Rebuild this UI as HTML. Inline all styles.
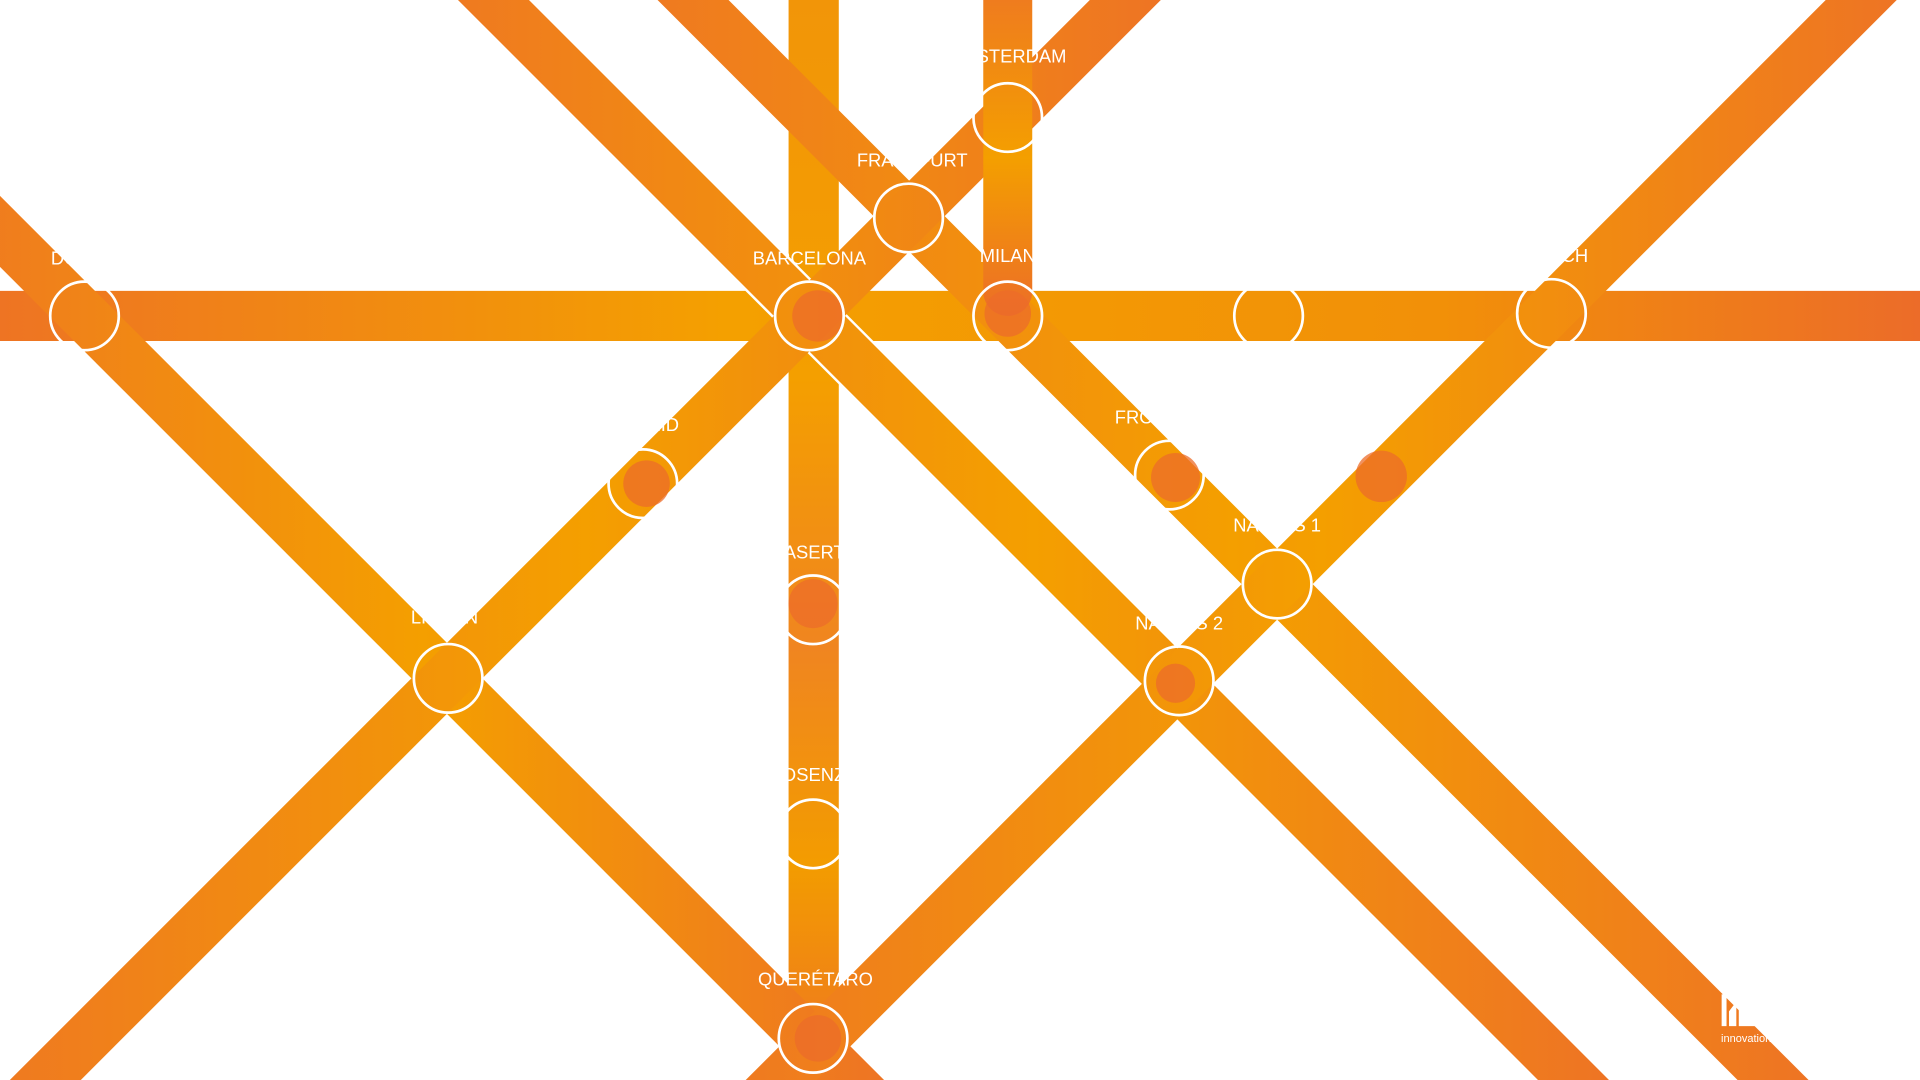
<!DOCTYPE html>
<html><head><meta charset="utf-8"><style>
html,body{margin:0;padding:0;background:#fff;width:1920px;height:1080px;overflow:hidden}
svg{display:block}
text{font-family:"Liberation Sans",sans-serif;fill:#fff;font-size:15px;text-anchor:middle}
</style></head><body>
<svg width="1920" height="1080" viewBox="0 0 1568 882" xmlns="http://www.w3.org/2000/svg">
<defs>
<linearGradient id="gh" gradientUnits="userSpaceOnUse" x1="0" y1="0" x2="1568" y2="0">
<stop offset="0" stop-color="#ee7423"/><stop offset="0.38" stop-color="#f4a000"/><stop offset="0.75" stop-color="#f29008"/><stop offset="1" stop-color="#ec6c29"/></linearGradient>
<linearGradient id="gd" x1="0" y1="0" x2="1" y2="0">
<stop offset="0" stop-color="#ef7a20"/><stop offset="0.5" stop-color="#f49f00"/><stop offset="1" stop-color="#ee7424"/></linearGradient>
<linearGradient id="gv" x1="0" y1="0" x2="0" y2="1">
<stop offset="0" stop-color="#f29508"/><stop offset="0.35" stop-color="#f49f00"/><stop offset="0.6" stop-color="#f08520"/><stop offset="0.8" stop-color="#f39c00"/><stop offset="1" stop-color="#ee7423"/></linearGradient>
<linearGradient id="gv2" x1="0" y1="0" x2="0" y2="1">
<stop offset="0" stop-color="#ef7c1e"/><stop offset="0.5" stop-color="#f49f00"/><stop offset="1" stop-color="#ec6d28"/></linearGradient>
</defs>
<g stroke-width="41" fill="none">
<line x1="0" y1="258" x2="1568" y2="258" stroke="url(#gh)"/>
<rect x="644" y="0" width="41" height="882" fill="url(#gv)" stroke="none"/>
<line x1="-30" y1="159" x2="723" y2="912" stroke="url(#gd)"/>
<line x1="373" y1="-30" x2="1315" y2="912" stroke="#fff" stroke-width="45"/>
<line x1="373" y1="-30" x2="1315" y2="912" stroke="url(#gd)"/>
<line x1="536" y1="-30" x2="1478" y2="912" stroke="url(#gd)"/>
<line x1="949" y1="-30" x2="7" y2="912" stroke="url(#gd)"/>
<line x1="1550" y1="-30" x2="608" y2="912" stroke="url(#gd)"/>
<path d="M803 0 V238 a20 20 0 0 0 40 0 V0 Z" fill="url(#gv2)" stroke="none"/>
</g>
<g fill="#ec6c29" opacity="0.75">
<circle cx="668" cy="258" r="21"/>
<circle cx="823" cy="256" r="19"/>
<circle cx="528" cy="395" r="19"/>
<circle cx="960" cy="390" r="20"/>
<circle cx="664" cy="493" r="20"/>
<circle cx="1128" cy="389" r="21"/>
<circle cx="960" cy="558" r="16"/>
<circle cx="668" cy="848" r="19"/>
</g>
<g fill="none" stroke="#fff" stroke-width="2.2">
<circle cx="69" cy="258" r="28"/>
<circle cx="661" cy="258" r="28"/>
<circle cx="742" cy="178" r="28"/>
<circle cx="823" cy="96" r="28"/>
<circle cx="823" cy="258" r="28"/>
<circle cx="1036" cy="258" r="28"/>
<circle cx="1267" cy="256" r="28"/>
<circle cx="525" cy="395" r="28"/>
<circle cx="955" cy="388" r="28"/>
<circle cx="1043" cy="477" r="28"/>
<circle cx="963" cy="556" r="28"/>
<circle cx="366" cy="554" r="28"/>
<circle cx="664" cy="498" r="28"/>
<circle cx="664" cy="681" r="28"/>
<circle cx="664" cy="848" r="28"/>
</g>
<text x="69" y="216">DUBLIN</text>
<text x="661" y="216">BARCELONA</text>
<text x="745" y="136">FRANKFURT</text>
<text x="823" y="51">AMSTERDAM</text>
<text x="823" y="214">MILAN</text>
<text x="1267" y="214">MUNICH</text>
<text x="955" y="346">FROSINONE</text>
<text x="525" y="352">MADRID</text>
<text x="1043" y="434">NAPLES 1</text>
<text x="963" y="514">NAPLES 2</text>
<text x="363" y="509">LISBON</text>
<text x="664" y="456">CASERTA</text>
<text x="664" y="638">COSENZA</text>
<text x="666" y="805">QUERÉTARO</text>
<rect x="1406" y="812" width="4" height="26" fill="#fff"/>
<path d="M1412 838 V826 L1418 818 V838 Z M1420 838 V822 H1440 V838 Z" fill="#fff"/>
<text x="1426" y="851" style="font-size:9px">innovation</text>
</svg>
</body></html>
